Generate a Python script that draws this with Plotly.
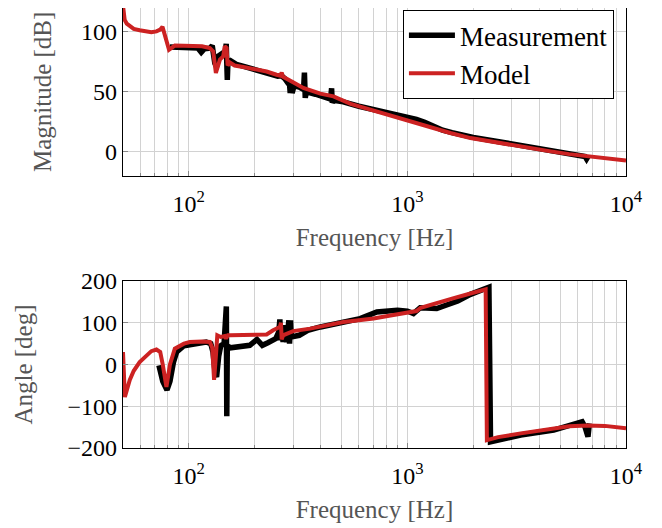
import plotly.graph_objects as go
from plotly.subplots import make_subplots

# ---------------- data ----------------
model_mag_f = [50, 50.9, 52, 53.7, 56, 59.6, 64, 67.4, 71.1, 74, 75.8, 81.2, 86.3, 101, 115,
               124.8, 129.3, 133, 138.8, 143.7, 146, 148.9, 150.5, 154, 162, 180, 197, 227,
               252, 262, 266, 270, 300, 334, 400, 459, 550, 676, 800, 960, 1100, 1271,
               1572, 1943, 2400, 2968, 3700, 4529, 5500, 6650, 8000, 10000]
model_mag_db = [122, 110, 107, 104.7, 102.5, 101.4, 100.2, 99.7, 100.5, 102, 104.2, 85.2, 88.6,
                88.6, 88, 86.6, 83.8, 65.7, 76.9, 79.6, 88, 86.6, 72, 74.5, 72, 70.5, 69.1, 67,
                64.3, 63.5, 66, 62.5, 58, 53.2, 48.5, 46.2, 40, 35.1, 31, 27.5, 24, 20,
                15.6, 11.4, 8.5, 5.8, 2.8, 0.3, -2, -3.9, -5.5, -7.3]

meas_mag_f = [82, 90, 100, 110, 114, 118, 125, 128, 131.5, 134, 137, 143, 147, 148.3, 148.8,
              149.4, 150, 151, 155, 165, 180, 200, 220, 240, 255, 265, 275, 285, 289, 291,
              294, 297, 300, 303, 320, 335, 338, 341, 345, 380, 420, 445, 450, 453, 460,
              500, 600, 700, 800, 900, 1000, 1100, 1200, 1300, 1450, 1600, 1800, 2000, 2500,
              3000, 4000, 5000, 6000, 6500, 6600, 6700]
meas_mag_db = [87.5, 87, 87, 86.5, 83, 86, 86.5, 88.5, 74, 71, 80, 83, 84, 90, 60,
               90, 60, 75, 76, 73, 71, 69, 67, 64, 63, 63.5, 61, 57, 56, 49,
               56, 49, 55, 55, 54, 52, 66, 45, 50, 48, 45, 44, 53, 41, 43,
               42, 38, 35.5, 33, 30.5, 29, 27, 24.5, 21.5, 18, 16, 13.5, 12, 9,
               6.5, 2.5, -0.5, -2.5, -4, -6, -4]

model_ph_f = [50, 51, 53.7, 56, 59.6, 64, 67.4, 71.1, 74, 76, 79, 82, 86.3, 95, 101, 115,
              124.8, 128, 130.5, 133, 135, 140, 146, 148, 151, 155, 197, 227, 243, 255,
              261, 264, 266, 270, 300, 359, 420, 510, 600, 700, 850, 1000, 1100, 1150,
              1362, 1600, 1943, 2280, 2310, 2600, 3300, 4670, 5500, 6650, 8000, 10000]
model_ph_deg = [30, -78, -37, -15, 6, 22, 32, 36, 30, 0, -54, 0, 38, 50, 54, 55,
                54, 40, -37, 20, 70, 66, 68, 62, 70, 70, 70, 72, 82, 88,
                90, 100, 60, 70, 80, 86, 94, 102, 106, 110, 118, 124, 128, 136,
                146, 158, 170, 180, -181, -174, -165, -153, -148, -146, -147, -153]

meas_ph_f = [73, 76, 79.5, 82, 85, 88, 95, 110, 120, 126, 129, 132, 134, 137, 140, 145,
             148.5, 149.2, 150, 155, 170, 190, 205, 217, 230, 250, 258, 261, 263, 266,
             270, 272, 280, 287, 289, 292, 294, 320, 350, 400, 500, 608, 725, 900, 1000,
             1066, 1144, 1362, 1500, 1700, 1943, 2200, 2360, 2400, 3000, 3300, 4670, 6000,
             6300, 6500, 6700, 6800]
meas_ph_deg = [-2, -40, -61, -40, 5, 30, 45, 52, 54, 50, 30, -20, -30, 20, 45, 50,
               139, -124, 45, 40, 44, 46, 60, 46, 52, 62, 78, 108, 58, 90,
               54, 94, 54, 106, 50, 106, 66, 70, 82, 90, 102, 110, 126, 130, 128,
               122, 136, 134, 142, 152, 168, 180, 185, -185, -172, -169, -157, -143,
               -137, -150, -173, -141]

xtick_vals = [100, 1000, 10000]
xtick_text = ["10<sup>2</sup>", "10<sup>3</sup>", "10<sup>4</sup>"]
minor_vals = [60, 70, 80, 90, 200, 300, 400, 500, 600, 700, 800, 900,
              2000, 3000, 4000, 5000, 6000, 7000, 8000, 9000]
mag_ticks = [0, 50, 100]
ph_ticks = [-200, -100, 0, 100, 200]

# ---------------- figure ----------------
BLACK = "#000000"
RED = "#cc2222"
FONT = '"Liberation Serif", "DejaVu Serif", serif'
GRID = "#d2d2d2"
TITLE_C = "#555555"

fig = make_subplots(rows=2, cols=1, vertical_spacing=0.0)

fig.add_trace(go.Scatter(x=meas_mag_f, y=meas_mag_db, mode="lines", name="Measurement",
                         line=dict(color=BLACK, width=5.5)), row=1, col=1)
fig.add_trace(go.Scatter(x=model_mag_f, y=model_mag_db, mode="lines", name="Model",
                         line=dict(color=RED, width=4)), row=1, col=1)
fig.add_trace(go.Scatter(x=meas_ph_f, y=meas_ph_deg, mode="lines", name="Measurement",
                         showlegend=False, line=dict(color=BLACK, width=5.5)), row=2, col=1)
fig.add_trace(go.Scatter(x=model_ph_f, y=model_ph_deg, mode="lines", name="Model",
                         showlegend=False, line=dict(color=RED, width=4)), row=2, col=1)

xcommon = dict(type="log", range=[1.69897, 4], tickmode="array", tickvals=xtick_vals,
               ticktext=xtick_text, showgrid=True, gridcolor=GRID, gridwidth=1,
               showline=True, linecolor="black", linewidth=1.2, mirror=True,
               ticks="inside", ticklen=5, tickcolor="#888", automargin=False,
               ticklabelstandoff=6,
               minor=dict(tickmode="array", tickvals=minor_vals, showgrid=True,
                          gridcolor=GRID, gridwidth=1, ticks="inside", ticklen=3,
                          tickcolor="#888"),
               zeroline=False, tickfont=dict(family=FONT, size=24, color="black"),
               title=dict(text="Frequency [Hz]", font=dict(family=FONT, size=25, color=TITLE_C),
                          standoff=12))
fig.update_xaxes(**xcommon, row=1, col=1)
fig.update_xaxes(**xcommon, row=2, col=1)

ycommon = dict(showgrid=True, gridcolor=GRID, gridwidth=1, zeroline=False,
               showline=True, linecolor="black", linewidth=1.2, mirror=True,
               ticks="inside", ticklen=5, tickcolor="#888", automargin=False,
               tickfont=dict(family=FONT, size=24, color="black"))
fig.update_yaxes(**ycommon, range=[-20, 120], tickmode="array", tickvals=mag_ticks,
                 title=dict(text="Magnitude [dB]", font=dict(family=FONT, size=25, color=TITLE_C),
                            standoff=22),
                 domain=[0.6189, 1.0], row=1, col=1)
fig.update_yaxes(**ycommon, range=[-200, 200], tickmode="array", tickvals=ph_ticks,
                 title=dict(text="Angle [deg]", font=dict(family=FONT, size=25, color=TITLE_C),
                            standoff=27),
                 domain=[0.0, 0.3795], row=2, col=1)

# the page body adds ~8 px offset; compensate in the figure size/margins
fig.update_layout(
    width=654, height=520,
    margin=dict(l=115, r=36, t=0, b=80, autoexpand=False),
    paper_bgcolor="white", plot_bgcolor="white",
    font=dict(family=FONT, color="black"),
    legend=dict(x=0.976, y=0.995, xanchor="right", yanchor="top",
                bgcolor="white", bordercolor="black", borderwidth=1,
                font=dict(family=FONT, size=27, color="black"),
                itemwidth=46, tracegroupgap=0),
)

fig.write_html("out.html")
